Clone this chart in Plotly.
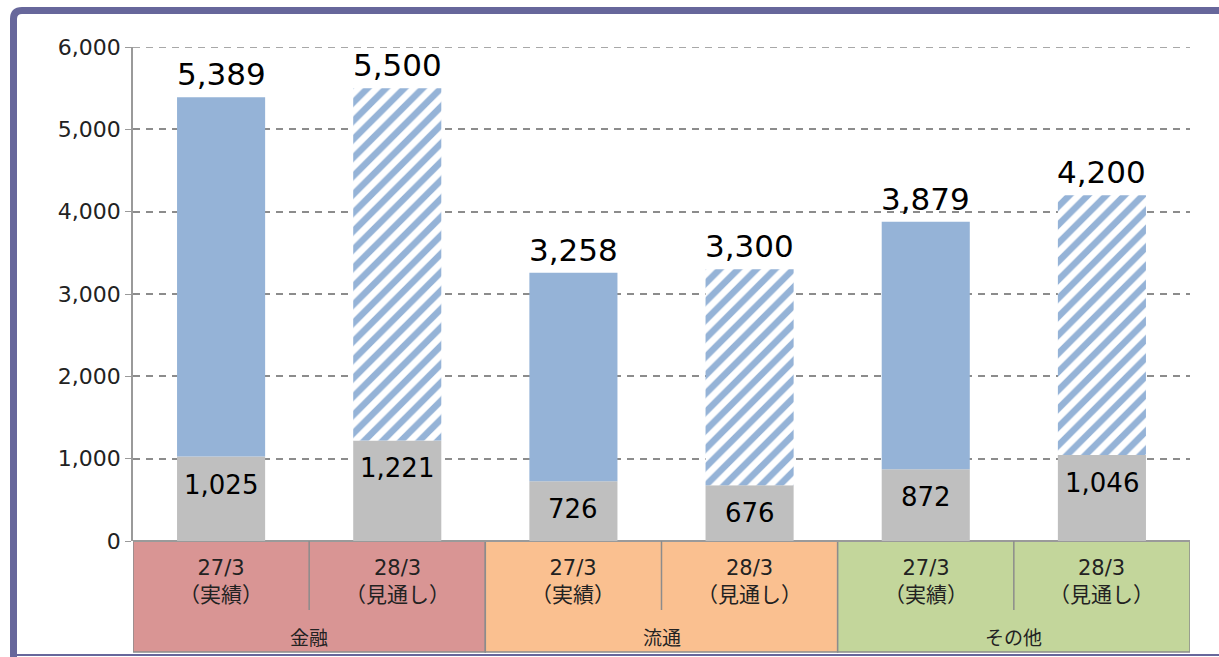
import plotly.graph_objects as go

# data
groups = ["金融", "流通", "その他"]
periods = ["27/3<br>（実績）", "28/3<br>（見通し）"] * 3
totals = [5389, 5500, 3258, 3300, 3879, 4200]
bottom = [1025, 1221, 726, 676, 872, 1046]
forecast = [False, True, False, True, False, True]
y_ticks = [0, 1000, 2000, 3000, 4000, 5000, 6000]

group_colors = ["#D99594", "#FAC090", "#C3D69B"]
blue = "#95B3D7"
gray = "#BFBFBF"
frame = "#67679B"
grid = "#8c8c8c"
num_font = "DejaVu Sans, Noto Sans CJK JP"

W, H = 1219, 657
L, R, T, B = 133, 1190, 47, 541  # plot area in pixels


def px_x(p):
    return (p - L) / (R - L)


def px_y(p):
    return (B - p) / (B - T)


x = list(range(len(totals)))
top = [t - b for t, b in zip(totals, bottom)]

fig = go.Figure()
fig.add_bar(x=x, y=bottom, width=0.5, marker=dict(color=gray, line=dict(width=0)),
            hoverinfo="skip")

act = [i for i in x if not forecast[i]]
fc = [i for i in x if forecast[i]]
fig.add_bar(x=act, y=[top[i] for i in act], base=[bottom[i] for i in act], width=0.5,
            marker=dict(color=blue, line=dict(width=0)), hoverinfo="skip")
fig.add_bar(x=fc, y=[top[i] for i in fc], base=[bottom[i] for i in fc], width=0.5,
            marker=dict(color="white", line=dict(width=0),
                        pattern=dict(shape="/", fgcolor=blue, bgcolor="white",
                                     fillmode="overlay", fgopacity=1, size=13, solidity=0.5)),
            hoverinfo="skip")

# value labels
for xi, t, b in zip(x, totals, bottom):
    fig.add_annotation(x=xi, y=t, text=f"{t:,}", showarrow=False, yanchor="bottom",
                       yshift=3, font=dict(size=31, color="black", family=num_font))
    fig.add_annotation(x=xi, y=b, text=f"{b:,}", showarrow=False, yanchor="middle",
                       yshift=-28, font=dict(size=26, color="black", family=num_font))

# category table under the axis
shapes = []
tbl_bot = px_y(652)
for g, col in enumerate(group_colors):
    shapes.append(dict(type="rect", xref="x", yref="paper", x0=2 * g - 0.5, x1=2 * g + 1.5,
                       y0=0, y1=tbl_bot, fillcolor=col, line=dict(color=grid, width=1.5),
                       layer="below"))
    shapes.append(dict(type="line", xref="x", yref="paper", x0=2 * g + 0.5, x1=2 * g + 0.5,
                       y0=0, y1=px_y(610), line=dict(color=grid, width=1.5)))
    fig.add_annotation(x=2 * g + 0.5, xref="x", yref="paper", y=px_y(636), text=groups[g],
                       showarrow=False, yanchor="middle",
                       font=dict(size=19, color="#222", family="Noto Sans CJK JP"))
for xi, p in zip(x, periods):
    fig.add_annotation(x=xi, xref="x", yref="paper", y=px_y(581), text=p, showarrow=False,
                       yanchor="middle", font=dict(size=21, color="#222", family=num_font))

# top gridline (plotly drops the one on the plot edge)
shapes.append(dict(type="line", xref="paper", yref="y", x0=0, x1=1, y0=y_ticks[-1],
                   y1=y_ticks[-1], line=dict(color=grid, width=1.5, dash="7px,6px"),
                   layer="below"))

# frame around the slide
shapes.append(dict(type="path", xref="paper", yref="paper",
                   path=f"M {px_x(13.5)},{px_y(660)} L {px_x(13.5)},{px_y(19)} "
                        f"Q {px_x(13.5)},{px_y(10.5)} {px_x(22)},{px_y(10.5)} "
                        f"L {px_x(1230)},{px_y(10.5)}",
                   line=dict(color=frame, width=7)))
shapes.append(dict(type="line", xref="paper", yref="paper", x0=px_x(10), x1=px_x(1230),
                   y0=px_y(655), y1=px_y(655), line=dict(color=frame, width=2)))

fig.update_layout(
    width=W, height=H,
    margin=dict(l=L, r=W - R, t=T, b=H - B),
    barmode="overlay",
    showlegend=False,
    paper_bgcolor="white",
    plot_bgcolor="white",
    shapes=shapes,
    xaxis=dict(range=[-0.5, 5.5], showticklabels=False, showgrid=False, zeroline=False,
               showline=False, fixedrange=True),
    yaxis=dict(range=[0, 6000], tickvals=y_ticks, tickformat=",", showgrid=True,
               gridcolor=grid, griddash="7px,6px", gridwidth=1.5, zeroline=True,
               zerolinecolor="#9a9a9a", zerolinewidth=1.5, showline=True,
               linecolor="#9a9a9a", linewidth=1.5, ticks="outside", ticklen=6,
               tickcolor="#9a9a9a", tickfont=dict(size=22, color="#222", family=num_font)),
)

fig.write_html("out.html", config={"displayModeBar": False},
               post_script="document.body.style.margin='0';document.body.style.overflow='hidden';")
